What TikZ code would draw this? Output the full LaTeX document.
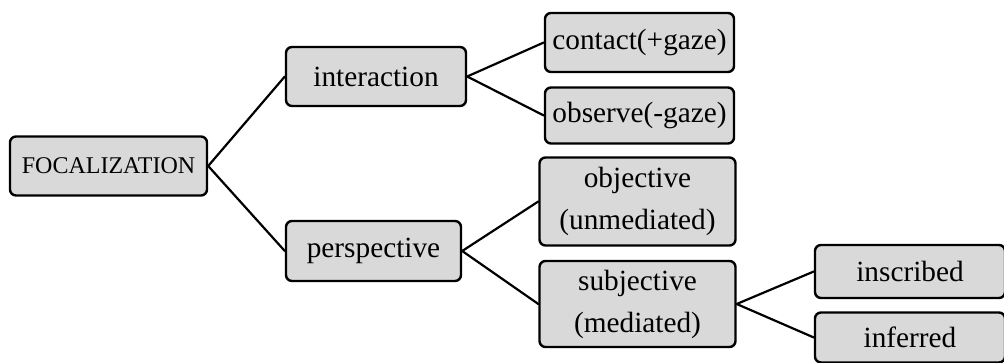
\documentclass[tikz,border=0pt]{standalone}
\usepackage{fontspec}
\setmainfont{Liberation Serif}
\begin{document}
\begin{tikzpicture}[x=1pt,y=-1pt,
  box/.style={draw=black, line width=2.4pt, fill=boxgray, rounded corners=6pt,
    inner sep=0pt, align=center, font=\fontsize{29.3}{42}\selectfont},
  link/.style={line width=2.2pt, line cap=round}]
\definecolor{boxgray}{HTML}{D9D9D9}
\useasboundingbox (0,0) rectangle (1004,363);
% level 0
\node[box, minimum width=197pt, minimum height=59pt, font=\fontsize{24}{28}\selectfont]
  (foc) at (108.5,166) {FOCALIZATION};
% level 1
\node[box, minimum width=180pt, minimum height=59pt] (inter) at (376,76.5) {interaction};
\node[box, minimum width=175pt, minimum height=60pt] (persp) at (373.5,251) {perspective};
% level 2
\node[box, minimum width=189pt, minimum height=59pt] (contact) at (639.5,42.5) {contact(+gaze)};
\node[box, minimum width=189pt, minimum height=56pt] (observe) at (639.5,115.5) {observe(-gaze)};
\node[box, minimum width=196pt, minimum height=88pt] (obj) at (637.5,201.5) {objective\\(unmediated)};
\node[box, minimum width=196pt, minimum height=86pt] (subj) at (637.5,304) {subjective\\(mediated)};
% level 3
\node[box, minimum width=190pt, minimum height=53pt] (inscr) at (910,271.5) {inscribed};
\node[box, minimum width=190pt, minimum height=50pt] (infer) at (910,337.5) {inferred};
% connectors
\draw[link] (foc.east) -- (inter.west);
\draw[link] (foc.east) -- (persp.west);
\draw[link] (inter.east) -- (contact.west);
\draw[link] (inter.east) -- (observe.west);
\draw[link] (persp.east) -- (obj.west);
\draw[link] (persp.east) -- (subj.west);
\draw[link] (subj.east) -- (inscr.west);
\draw[link] (subj.east) -- (infer.west);
\end{tikzpicture}
\end{document}
